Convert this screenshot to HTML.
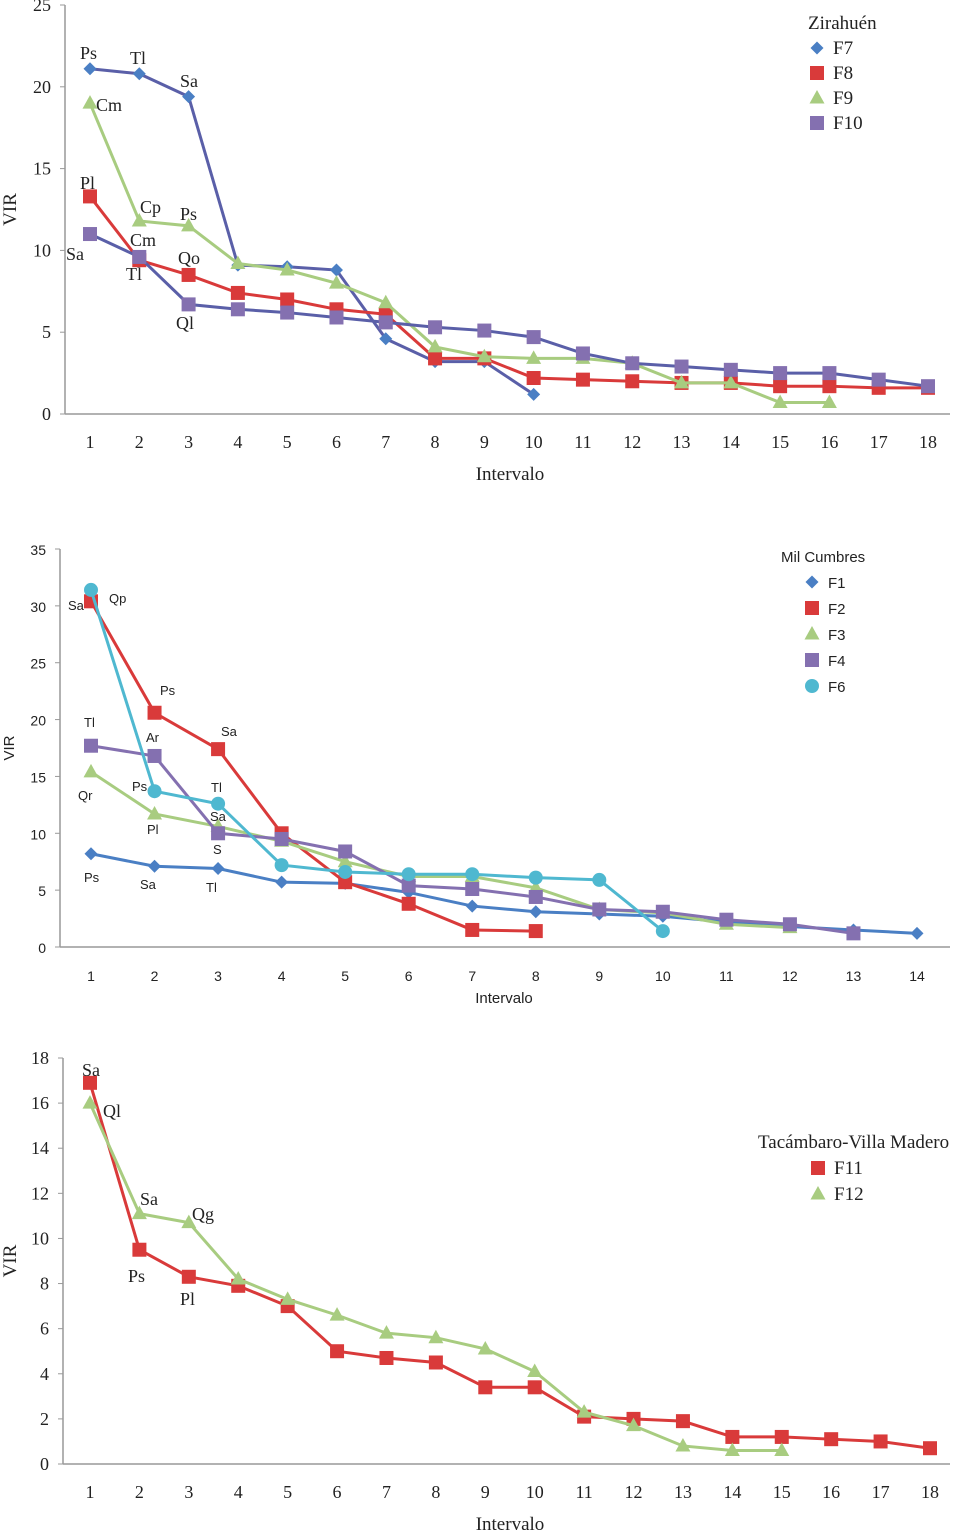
<!DOCTYPE html>
<html><head><meta charset="utf-8"><style>
html,body{margin:0;padding:0;background:#fff;width:972px;height:1530px;overflow:hidden}
svg{display:block}
</style></head><body>
<svg id="s" width="972" height="1530"></svg>
<script>
// Chart 1 data (Zirahuén)
const c1Ticks=[0,5,10,15,20,25];
const c1Cats=[1,2,3,4,5,6,7,8,9,10,11,12,13,14,15,16,17,18];
const f7=[21.1,20.8,19.4,9.1,9.0,8.8,4.6,3.2,3.2,1.2];
const f8=[13.3,9.4,8.5,7.4,7.0,6.4,6.1,3.4,3.4,2.2,2.1,2.0,1.9,1.9,1.7,1.7,1.6,1.6];
const f9=[19.0,11.8,11.5,9.2,8.8,8.0,6.8,4.1,3.5,3.4,3.4,3.1,1.9,1.9,0.7,0.7];
const f10=[11.0,9.6,6.7,6.4,6.2,5.9,5.6,5.3,5.1,4.7,3.7,3.1,2.9,2.7,2.5,2.5,2.1,1.7];
// Chart 2 data (Mil Cumbres)
const c2Ticks=[0,5,10,15,20,25,30,35];
const c2Cats=[1,2,3,4,5,6,7,8,9,10,11,12,13,14];
const f1=[8.2,7.1,6.9,5.7,5.6,4.8,3.6,3.1,2.9,2.7,2.2,1.8,1.5,1.2];
const f2=[30.4,20.6,17.4,10.0,5.7,3.8,1.5,1.4];
const f3=[15.4,11.7,10.6,9.3,7.5,6.2,6.2,5.2,3.3,3.0,2.0,1.7];
const f4=[17.7,16.8,10.0,9.5,8.4,5.4,5.1,4.4,3.3,3.1,2.4,2.0,1.2];
const f6=[31.4,13.7,12.6,7.2,6.6,6.4,6.4,6.1,5.9,1.4];
// Chart 3 data (Tacámbaro-Villa Madero)
const c3Ticks=[0,2,4,6,8,10,12,14,16,18];
const c3Cats=[1,2,3,4,5,6,7,8,9,10,11,12,13,14,15,16,17,18];
const f11=[16.9,9.5,8.3,7.9,7.0,5.0,4.7,4.5,3.4,3.4,2.1,2.0,1.9,1.2,1.2,1.1,1.0,0.7];
const f12=[16.0,11.1,10.7,8.2,7.3,6.6,5.8,5.6,5.1,4.1,2.3,1.7,0.8,0.6,0.6];

const NS='http://www.w3.org/2000/svg';
const svg=document.getElementById('s');
function mk(tag,attrs,parent,txt){const e=document.createElementNS(NS,tag);for(const k in attrs)e.setAttribute(k,attrs[k]);if(txt!==undefined)e.textContent=txt;(parent||svg).appendChild(e);return e;}
const COL={blue:'#4a7fc4',red:'#d93a3a',green:'#a8cc80',purple:'#8470b0',cyan:'#4fb8d0',navy:'#5a5fa8'};

function marker(g,shape,x,y,fill){
  let m;
  if(shape==='d')m=mk('polygon',{points:`${x},${y-6.5} ${x+6.5},${y} ${x},${y+6.5} ${x-6.5},${y}`,fill:fill},g);
  else if(shape==='s')m=mk('rect',{x:x-7,y:y-7,width:14,height:14,fill:fill},g);
  else if(shape==='t')m=mk('polygon',{points:`${x},${y-8} ${x+7.5},${y+5.5} ${x-7.5},${y+5.5}`,fill:fill},g);
  else m=mk('circle',{cx:x,cy:y,r:7,fill:fill},g);
  
  
}

function chart(cfg){
  const g=mk('g',{});
  
  
  const yS=v=>cfg.y0-(v/cfg.ymax)*(cfg.y0-cfg.ytop);
  const xS=c=>cfg.x1+(c-1)*(cfg.xn-cfg.x1)/(cfg.cats.length-1);
  const ax=mk('line',{x1:cfg.ax,y1:cfg.ytop,x2:cfg.ax,y2:cfg.y0,stroke:'#999','stroke-width':1.5},g);
  
  const bx=mk('line',{x1:cfg.ax,y1:cfg.y0,x2:cfg.axEnd,y2:cfg.y0,stroke:'#999','stroke-width':1.5},g);
  
  cfg.ticks.forEach(t=>{
    mk('line',{x1:cfg.ax-5,y1:yS(t),x2:cfg.ax,y2:yS(t),stroke:'#999'},g);
    const tx=mk('text',{x:cfg.ax-14,y:yS(t)+6,'text-anchor':'end','font-size':cfg.fs,fill:'#222','font-family':cfg.font},g,t);
    
  });
  cfg.cats.forEach(c=>{
    const tx=mk('text',{x:xS(c),y:cfg.y0+34,'text-anchor':'middle','font-size':cfg.fs,fill:'#222','font-family':cfg.font},g,c);
    
  });
  const xt=mk('text',{x:cfg.xtx,y:cfg.y0+cfg.xty,'text-anchor':'middle','font-size':cfg.fs+1,fill:'#222','font-family':cfg.font},g,'Intervalo');
  
  const ym=(cfg.y0+cfg.ytop)/2;
  const yt=mk('text',{x:cfg.yx,y:ym,'text-anchor':'middle','font-size':cfg.fs+1,fill:'#222','font-family':cfg.font,transform:`rotate(-90 ${cfg.yx} ${ym})`},g,'VIR');
  
  cfg.series.forEach(s=>{
    const sg=mk('g',{},g);
    
    
    const pts=s.data.map((v,i)=>`${xS(i+1)},${yS(v)}`).join(' ');
    mk('polyline',{points:pts,fill:'none',stroke:s.line,'stroke-width':3},sg);
    s.data.forEach((v,i)=>marker(sg,s.shape,xS(i+1),yS(v),s.fill));
  });
  const lg=mk('g',{},g);
  
  const lt=mk('text',{x:cfg.lx,y:cfg.ly,'font-size':cfg.fs+1,fill:'#222','font-family':cfg.font},lg,cfg.title);
  
  cfg.series.forEach((s,i)=>{
    const yy=cfg.ly+cfg.lstep*(i+1);
    marker(lg,s.shape,cfg.lmx,yy-6,s.fill);
    const e=mk('text',{x:cfg.lmx+16,y:yy,'font-size':cfg.fs+1,fill:'#222','font-family':cfg.font},lg,s.label);
    
  });
  (cfg.labels||[]).forEach(l=>{
    const e=mk('text',{x:l[1],y:l[2],'font-size':cfg.lfs,fill:'#222','font-family':cfg.font},g,l[0]);
    
  });
}
const SERIF='"Liberation Serif", serif', SANS='"Liberation Sans", sans-serif';
chart({name:'chart-zirahuen',ax:65,axEnd:950,ytop:5,y0:414,ymax:25,x1:90,xn:928,cats:c1Cats,ticks:c1Ticks,fs:18,font:SERIF,yx:16,xtx:510,xty:66,
  title:'Zirahuén',lx:808,ly:29,lstep:25,lmx:817,
  series:[{label:'F7',data:f7,shape:'d',fill:COL.blue,line:COL.navy},
          {label:'F8',data:f8,shape:'s',fill:COL.red,line:COL.red},
          {label:'F9',data:f9,shape:'t',fill:COL.green,line:COL.green},
          {label:'F10',data:f10,shape:'s',fill:COL.purple,line:COL.navy}],
  lfs:18,labels:[['Ps',80,59],['Tl',130,64],['Sa',180,87],['Cm',96,111],['Pl',80,189],['Cp',140,213],['Ps',180,220],['Cm',130,246],['Sa',66,260],['Tl',126,280],['Qo',178,264],['Ql',176,329]]});
chart({name:'chart-mil-cumbres',ax:60,axEnd:950,ytop:549,y0:947,ymax:35,x1:91,xn:917,cats:c2Cats,ticks:c2Ticks,fs:14,font:SANS,yx:14,xtx:504,xty:56,
  title:'Mil Cumbres',lx:781,ly:562,lstep:26,lmx:812,
  series:[{label:'F1',data:f1,shape:'d',fill:COL.blue,line:COL.blue},
          {label:'F2',data:f2,shape:'s',fill:COL.red,line:COL.red},
          {label:'F3',data:f3,shape:'t',fill:COL.green,line:COL.green},
          {label:'F4',data:f4,shape:'s',fill:COL.purple,line:COL.purple},
          {label:'F6',data:f6,shape:'c',fill:COL.cyan,line:COL.cyan}],
  lfs:13,labels:[['Sa',68,610],['Qp',109,603],['Ps',160,695],['Tl',84,727],['Ar',146,742],['Sa',221,736],['Ps',132,791],['Tl',211,792],['Qr',78,800],['Sa',210,821],['Pl',147,834],['S',213,854],['Ps',84,882],['Sa',140,889],['Tl',206,892]]});
chart({name:'chart-tacambaro',ax:63,axEnd:950,ytop:1058,y0:1464,ymax:18,x1:90,xn:930,cats:c3Cats,ticks:c3Ticks,fs:18,font:SERIF,yx:16,xtx:510,xty:66,
  title:'Tacámbaro-Villa Madero',lx:758,ly:1148,lstep:26,lmx:818,
  series:[{label:'F11',data:f11,shape:'s',fill:COL.red,line:COL.red},
          {label:'F12',data:f12,shape:'t',fill:COL.green,line:COL.green}],
  lfs:18,labels:[['Sa',82,1076],['Ql',103,1117],['Sa',140,1205],['Qg',192,1220],['Ps',128,1282],['Pl',180,1305]]});
</script>
</body></html>
